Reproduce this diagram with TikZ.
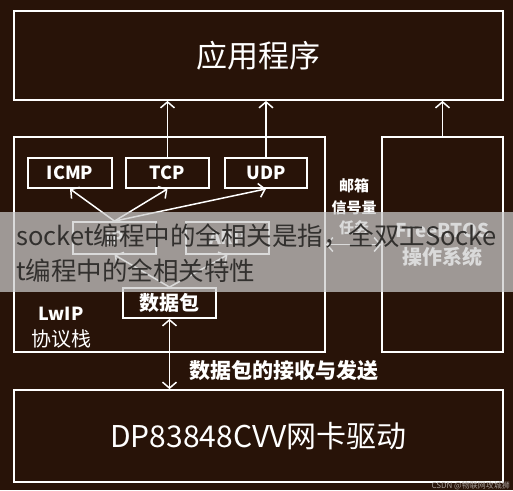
\documentclass[tikz,border=0pt]{standalone}
\usepackage{fontspec}
\setmainfont{Noto Sans CJK SC}
\usetikzlibrary{arrows.meta}
\definecolor{bgc}{RGB}{40,19,8}
\definecolor{wmtext}{RGB}{50,48,46}
\begin{document}
\begin{tikzpicture}[x=1pt,y=-1pt,
  box/.style={draw=white,line width=1.8pt,inner sep=0pt,text=white},
  fs/.style={font=\fontsize{#1}{#1}\selectfont},
  fb/.style={font=\bfseries\fontsize{#1}{#1}\selectfont},
  lbl/.style={text=white,inner sep=0pt},
  tipv/.tip={Straight Barb[length=6pt,width=14pt,line width=1.5pt]},
  arr/.style={draw=white,line width=1.5pt,-tipv},
  darr/.style={draw=white,line width=1.5pt,tipv-tipv},
]
\fill[bgc] (0,0) rectangle (513,490);
\useasboundingbox (0,0) rectangle (513,490);

% boxes
\node[box,minimum width=489pt,minimum height=89pt,fs=31] (app) at (258.5,55.5) {应用程序};
\node[box,minimum width=311pt,minimum height=215pt] (lwip) at (169.5,244.5) {};
\node[box,minimum width=121pt,minimum height=215pt] (rtos) at (442.5,244.5) {};
\node[box,minimum width=84pt,minimum height=30pt,fb=18] (icmp) at (70,173) {ICMP};
\node[box,minimum width=83pt,minimum height=30pt,fb=18] (tcp) at (167.5,173) {TCP};
\node[box,minimum width=82pt,minimum height=30pt,fb=18] (udp) at (266,173) {UDP};
\node[box,minimum width=83pt,minimum height=32pt,fb=18] (ip) at (114.5,238) {IP};
\node[box,minimum width=83pt,minimum height=32pt,fb=18] (arp) at (227.5,238) {ARP};
\node[box,minimum width=93pt,minimum height=30pt,fb=20] (pkt) at (169.5,303) {数据包};
\node[box,minimum width=489pt,minimum height=92pt,fs=30] (dp) at (258.5,436) {DP83848CVV网卡驱动};

% labels
\node[lbl,fb=18] (lwipa) at (61,314) {LwIP};
\node[lbl,fs=20] (lwipb) at (61,339) {协议栈};
\node[lbl,fb=15] (mb1) at (354,186) {邮箱};
\node[lbl,fb=15] (mb2) at (354,208) {信号量};
\node[lbl,fb=15] (mb3) at (354,228) {任务};
\node[lbl,fb=19] (rt1) at (442.5,230) {FreeRTOS};
\node[lbl,fb=20] (rt2) at (442.5,257) {操作系统};
\node[lbl,fb=21] (send) at (284,371) {数据包的接收与发送};

% connectors
\draw[arr] (tcp.north) -- (tcp.north |- app.south);
\draw[arr] (udp.north) -- (udp.north |- app.south);
\draw[arr] (rtos.north) -- (rtos.north |- app.south);
\draw[arr] (ip.north) -- (icmp.south);
\draw[arr] (ip.north) -- (tcp.south);
\draw[arr] (ip.north) -- (udp.south);
\draw[arr] (pkt.north) -- (ip.south);
\draw[arr] (pkt.north) -- (arp.south);
\draw[darr] (pkt.south) -- (pkt.south |- dp.north);
\draw[darr] (lwip.east) -- (rtos.west);

% watermark band
\fill[white!80!black,opacity=0.72] (0,212) rectangle (513,292);
\node[anchor=west,inner sep=0pt,text=wmtext,fs=25.5] (wm1) at (16,236) {socket编程中的全相关是指，全双工Socke};
\node[anchor=west,inner sep=0pt,text=wmtext,fs=25.5] (wm2) at (16,271) {t编程中的全相关特性};
\node[anchor=east,inner sep=0pt,text=white!60!bgc,fs=8] (csdn) at (510,486) {CSDN @物联网攻城狮};
\end{tikzpicture}
\end{document}
